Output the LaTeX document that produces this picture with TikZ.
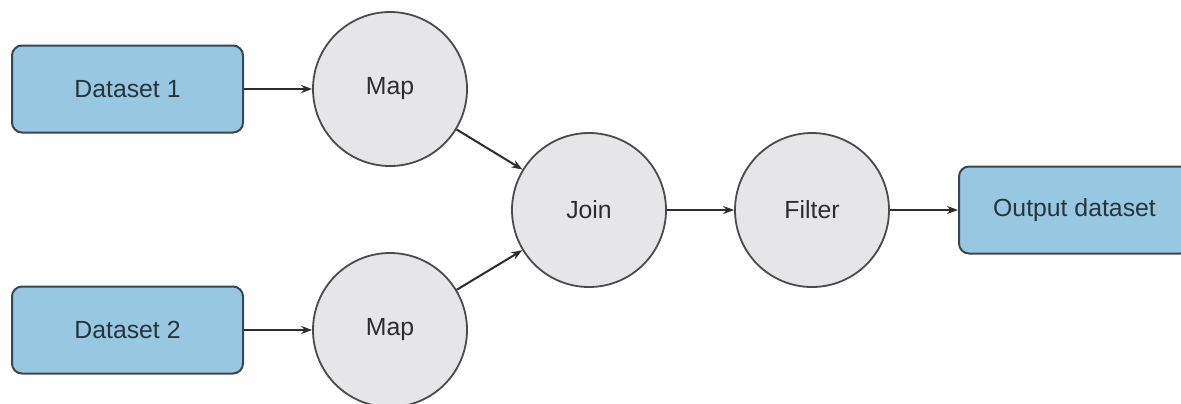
\documentclass[tikz,border=0pt]{standalone}
\usepackage{fontspec}
\setmainfont{Liberation Sans}
\usetikzlibrary{arrows.meta}
\definecolor{boxfill}{RGB}{152,199,226}
\definecolor{boxline}{RGB}{58,70,80}
\definecolor{boxtext}{RGB}{38,52,64}
\definecolor{opfill}{RGB}{230,230,232}
\definecolor{opline}{RGB}{75,75,75}
\definecolor{optext}{RGB}{45,45,45}
\definecolor{arrowcol}{RGB}{45,45,45}
\begin{document}
\begin{tikzpicture}[x=0.5pt,y=-0.5pt,
  dataset/.style={draw=boxline, fill=boxfill, line width=1pt, rounded corners=5pt,
    minimum width=115.5pt, minimum height=43.5pt, inner sep=0pt,
    text=boxtext, font=\fontsize{12.4pt}{14pt}\selectfont},
  operation/.style={circle, draw=opline, fill=opfill, line width=0.9pt,
    minimum size=77pt, inner sep=0pt,
    text=optext, font=\fontsize{12.4pt}{14pt}\selectfont},
  flow/.style={draw=arrowcol, line width=1pt,
    -{Stealth[length=5.5pt,width=4pt]}}]
  \useasboundingbox (0,0) rectangle (1181,403);
  \fill[white] (0,0) rectangle (1181,403);

  % inputs
  \node[dataset] (d1) at (127.5,89) {Dataset 1};
  \node[dataset] (d2) at (127.5,330) {Dataset 2};

  % operations
  \node[operation] (m1) at (390,89) {Map};
  \node[operation] (m2) at (390,330) {Map};
  \node[operation] (join) at (589,210) {Join};
  \node[operation] (filter) at (812,210) {Filter};

  % output
  \node[dataset] (out) at (1074.5,210) {Output dataset};

  % connectors
  \draw[flow] (d1) -- (m1);
  \draw[flow] (d2) -- (m2);
  \draw[flow] (m1) -- (join);
  \draw[flow] (m2) -- (join);
  \draw[flow] (join) -- (filter);
  \draw[flow] (filter) -- (out);
\end{tikzpicture}
\end{document}
